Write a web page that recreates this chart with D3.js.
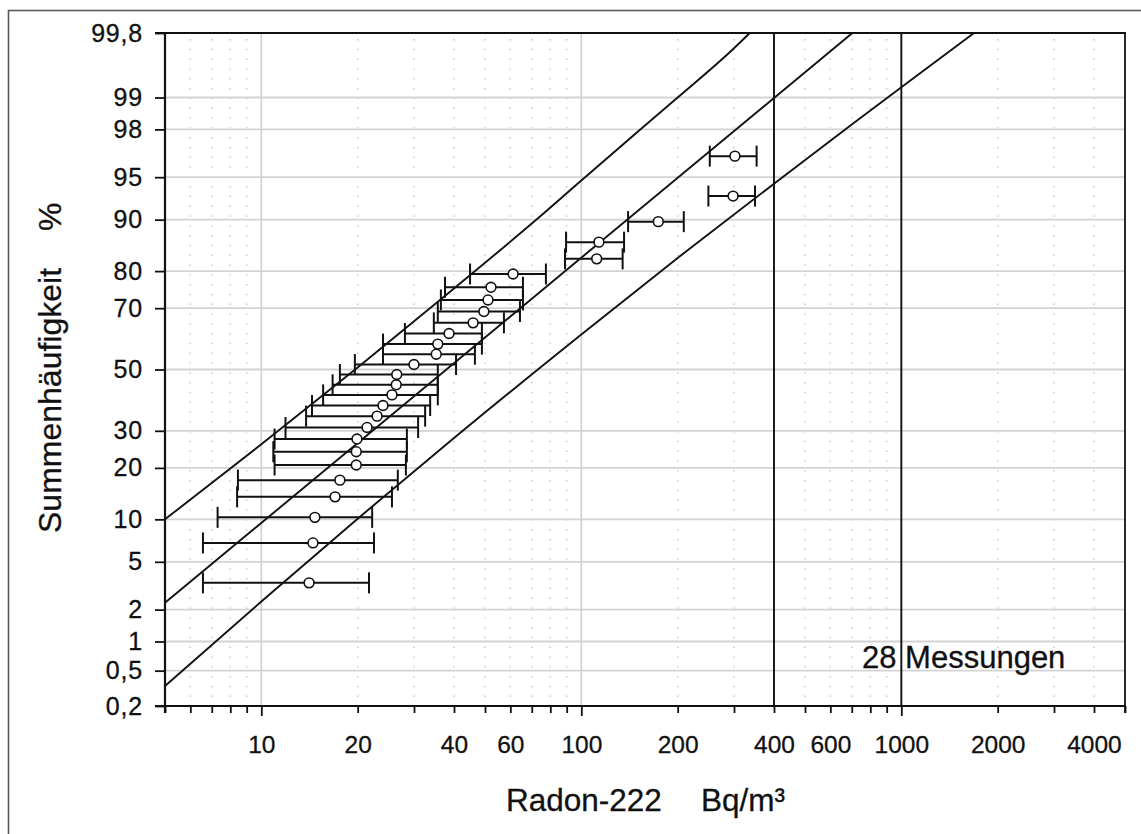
<!DOCTYPE html>
<html>
<head>
<meta charset="utf-8">
<script src="https://cdn.jsdelivr.net/npm/d3@7"></script>
<style>
  html, body { margin: 0; padding: 0; background: #fff; }
  svg { display: block; }
  text { font-family: "Liberation Sans", Arial, Helvetica, sans-serif; fill: #111; stroke: #111; stroke-width: 0.3px; }
</style>
</head>
<body>
<svg id="chart" width="1141" height="834"></svg>
<script>
// ---------------- data ----------------
// cumulative frequency (%) of each of the 28 measurements
const cumFreq = [3.4, 6.9, 10.3, 13.8, 17.2, 20.7, 24.1, 27.6, 31.0, 34.5, 37.9, 41.4, 44.8, 48.3,
                 51.7, 55.2, 58.6, 62.1, 65.5, 69.0, 72.4, 75.9, 79.3, 82.8, 86.2, 89.7, 93.1, 96.6];
// measured Radon-222 values (Bq/m³)
const radonValue = [14.1, 14.5, 14.7, 17.0, 17.6, 19.8, 19.8, 19.9, 21.4, 23.0, 24.0, 25.6, 26.4, 26.5,
                    30.0, 35.2, 35.6, 38.6, 45.9, 49.6, 51.1, 52.2, 61.2, 111.7, 113.5, 174, 298, 302];
// lower / upper ends of the error bars
const radonLow  = [6.57, 6.57, 7.3, 8.4, 8.45, 11.0, 10.9, 11.0, 11.9, 13.8, 14.4, 15.6, 16.7, 17.6,
                   19.6, 24.0, 24.0, 28.1, 34.6, 35.6, 36.4, 37.5, 44.9, 88.9, 89.6, 140, 249.5, 252];
const radonHigh = [21.7, 22.5, 22.2, 25.6, 26.7, 28.3, 28.5, 28.5, 30.9, 32.5, 33.7, 35.6, 35.6, 35.6,
                   40.6, 46.5, 48.9, 48.9, 57.3, 64.3, 65.7, 65.7, 77.5, 134.6, 136, 209, 349, 353];

// fitted log-normal line and its confidence band: [Bq/m³, %]
const fitLine   = [[5, 2.30], [703, 99.8]];
const upperBand = [[5, 10.0], [10, 26.1], [20, 50.7], [40, 75.6], [70, 89.4], [100, 94.7],
                   [150, 97.9], [200, 99.0], [300, 99.70], [336, 99.8]];
const lowerBand = [[5, 0.34], [10, 2.36], [20, 10.1], [40, 27.9], [100, 61.8], [200, 83.0],
                   [400, 94.4], [700, 98.19], [1000, 99.21], [1687, 99.8]];

// reference lines (Bq/m³)
const refLines = [400, 1000];

// axes
const yTicks = [0.2, 0.5, 1, 2, 5, 10, 20, 30, 50, 70, 80, 90, 95, 98, 99, 99.8];
const yTickLabels = ["0,2", "0,5", "1", "2", "5", "10", "20", "30", "50", "70", "80", "90", "95", "98", "99", "99,8"];
const xMajorTicks = [10, 100, 1000];
const xMinorTicks = [5, 6, 7, 8, 9, 20, 30, 40, 50, 60, 70, 80, 90, 200, 300, 400, 500, 600, 700, 800, 900,
                     2000, 3000, 4000, 5000];
const xTickLabels = [10, 20, 40, 60, 100, 200, 400, 600, 1000, 2000, 4000];
const xDotted = [6, 7, 8, 9, 20, 30, 40, 50, 60, 70, 80, 90, 200, 300, 500, 600, 700, 800, 900, 2000, 3000, 4000];

const yTitle = "Summenhäufigkeit";
const yUnit = "%";
const xTitle = "Radon-222";
const xUnit = "Bq/m³";
const note = "28 Messungen";

// ---------------- helpers ----------------
// inverse standard normal CDF (Acklam)
function probit(p) {
  const a = [-3.969683028665376e+01, 2.209460984245205e+02, -2.759285104469687e+02,
             1.383577518672690e+02, -3.066479806614716e+01, 2.506628277459239e+00];
  const b = [-5.447609879822406e+01, 1.615858368580409e+02, -1.556989798598866e+02,
             6.680131188771972e+01, -1.328068155288572e+01];
  const c = [-7.784894002430293e-03, -3.223964580411365e-01, -2.400758277161838e+00,
             -2.549671635474730e+00, 4.374664141464968e+00, 2.938163982698783e+00];
  const d = [7.784695709041462e-03, 3.224671290700398e-01, 2.445134137142996e+00, 3.754408661907416e+00];
  const pl = 0.02425, ph = 1 - pl;
  let q, r;
  if (p < pl) {
    q = Math.sqrt(-2 * Math.log(p));
    return (((((c[0]*q+c[1])*q+c[2])*q+c[3])*q+c[4])*q+c[5]) / ((((d[0]*q+d[1])*q+d[2])*q+d[3])*q+1);
  } else if (p <= ph) {
    q = p - 0.5; r = q * q;
    return (((((a[0]*r+a[1])*r+a[2])*r+a[3])*r+a[4])*r+a[5])*q / (((((b[0]*r+b[1])*r+b[2])*r+b[3])*r+b[4])*r+1);
  } else {
    q = Math.sqrt(-2 * Math.log(1 - p));
    return -(((((c[0]*q+c[1])*q+c[2])*q+c[3])*q+c[4])*q+c[5]) / ((((d[0]*q+d[1])*q+d[2])*q+d[3])*q+1);
  }
}

// ---------------- layout ----------------
const L = 165, R = 1125, T = 33, B = 706;
const svg = d3.select("#chart");

const x = d3.scaleLog().domain([5, 5000]).range([L, R]);
const yz = d3.scaleLinear().domain([probit(0.002), probit(0.998)]).range([B, T]);
const y = p => yz(probit(p / 100));

// outer frame
svg.append("rect").attr("x", 8.5).attr("y", 10.5).attr("width", 1140).attr("height", 830)
  .attr("fill", "none").attr("stroke", "#5a5a5a").attr("stroke-width", 1.6);

const g = svg.append("g");

// dotted minor verticals
g.append("g").selectAll("line").data(xDotted).join("line")
  .attr("x1", d => x(d)).attr("x2", d => x(d)).attr("y1", T + 6).attr("y2", B)
  .attr("stroke", "#c4c4c4").attr("stroke-width", 1.4).attr("stroke-dasharray", "1.4,8.4");

// horizontal grid
g.append("g").selectAll("line").data(yTicks.slice(1, -1)).join("line")
  .attr("x1", L).attr("x2", R).attr("y1", d => y(d)).attr("y2", d => y(d))
  .attr("stroke", "#d3d3d3").attr("stroke-width", 1.8);

// vertical grid at 10,100
g.append("g").selectAll("line").data([10, 100]).join("line")
  .attr("x1", d => x(d)).attr("x2", d => x(d)).attr("y1", T).attr("y2", B)
  .attr("stroke", "#d3d3d3").attr("stroke-width", 1.8);

// note text
g.append("text").attr("x", 862).attr("y", 668).attr("font-size", 31).text(note);

// reference verticals
g.append("g").selectAll("line").data(refLines).join("line")
  .attr("x1", d => x(d)).attr("x2", d => x(d)).attr("y1", T).attr("y2", B)
  .attr("stroke", "#111").attr("stroke-width", 1.9);

// fitted line and band
const lineGen = d3.line().x(d => x(d[0])).y(d => y(d[1])).curve(d3.curveMonotoneX);
g.append("g").selectAll("path").data([upperBand, fitLine, lowerBand]).join("path")
  .attr("d", lineGen).attr("fill", "none").attr("stroke", "#111").attr("stroke-width", 1.9);

// error bars
const rows = cumFreq.map((p, i) => ({ p, v: radonValue[i], lo: radonLow[i], hi: radonHigh[i] }));
const eb = g.append("g").attr("stroke", "#111").attr("stroke-width", 2);
eb.selectAll("line.bar").data(rows).join("line").attr("class", "bar")
  .attr("x1", d => x(d.lo)).attr("x2", d => x(d.hi)).attr("y1", d => y(d.p)).attr("y2", d => y(d.p));
eb.selectAll("line.capl").data(rows).join("line").attr("class", "capl")
  .attr("x1", d => x(d.lo)).attr("x2", d => x(d.lo)).attr("y1", d => y(d.p) - 10.5).attr("y2", d => y(d.p) + 10.5);
eb.selectAll("line.caph").data(rows).join("line").attr("class", "caph")
  .attr("x1", d => x(d.hi)).attr("x2", d => x(d.hi)).attr("y1", d => y(d.p) - 10.5).attr("y2", d => y(d.p) + 10.5);

// points
g.append("g").selectAll("circle").data(rows).join("circle")
  .attr("cx", d => x(d.v)).attr("cy", d => y(d.p)).attr("r", 4.9)
  .attr("fill", "#fff").attr("stroke", "#111").attr("stroke-width", 1.6);

// plot frame (top / right)
g.append("line").attr("x1", L - 10).attr("x2", R + 1).attr("y1", T).attr("y2", T)
  .attr("stroke", "#111").attr("stroke-width", 1.8);
g.append("line").attr("x1", R).attr("x2", R).attr("y1", T).attr("y2", B + 7)
  .attr("stroke", "#111").attr("stroke-width", 1.8);

// y axis
const yAxis = d3.axisLeft(yz)
  .tickValues(yTicks.map(p => probit(p / 100)))
  .tickFormat((d, i) => yTickLabels[i])
  .tickSize(10).tickPadding(12);
const ya = svg.append("g").attr("transform", `translate(${L},0)`).call(yAxis);
ya.select(".domain").remove();
ya.append("line").attr("x1", 0).attr("x2", 0).attr("y1", T - 1).attr("y2", B + 7)
  .attr("stroke", "#111").attr("stroke-width", 2.2);
ya.selectAll(".tick line").attr("stroke", "#111").attr("stroke-width", 1.8);
ya.selectAll(".tick text").attr("font-size", 25).attr("fill", "#111")
  .style("font-family", "'Liberation Sans', Arial, sans-serif").attr("letter-spacing", "0.8px");

// x axis: minor ticks
const xa1 = svg.append("g").attr("transform", `translate(0,${B})`)
  .call(d3.axisBottom(x).tickValues(xMinorTicks).tickSize(7).tickFormat(""));
xa1.select(".domain").remove();
xa1.selectAll(".tick line").attr("stroke", "#111").attr("stroke-width", 1.8);
// major ticks
const xa2 = svg.append("g").attr("transform", `translate(0,${B})`)
  .call(d3.axisBottom(x).tickValues(xMajorTicks).tickSize(10).tickFormat(""));
xa2.select(".domain").remove();
xa2.selectAll(".tick line").attr("stroke", "#111").attr("stroke-width", 1.8);
// labels
const xa3 = svg.append("g").attr("transform", `translate(0,${B})`)
  .call(d3.axisBottom(x).tickValues(xTickLabels).tickSize(0).tickPadding(30).tickFormat(d3.format("d")));
xa3.select(".domain").remove();
xa3.selectAll(".tick text").attr("font-size", 24.5).attr("fill", "#111")
  .style("font-family", "'Liberation Sans', Arial, sans-serif");
svg.append("line").attr("x1", L - 10).attr("x2", R + 1).attr("y1", B).attr("y2", B)
  .attr("stroke", "#111").attr("stroke-width", 2.2);

// titles
svg.append("text").attr("transform", "translate(61,533) rotate(-90)").attr("font-size", 32).text(yTitle);
svg.append("text").attr("transform", "translate(61,231) rotate(-90)").attr("font-size", 32).text(yUnit);
svg.append("text").attr("x", 506).attr("y", 811).attr("font-size", 31.5).text(xTitle);
svg.append("text").attr("x", 701).attr("y", 811).attr("font-size", 31.5).text(xUnit);
</script>
</body>
</html>
